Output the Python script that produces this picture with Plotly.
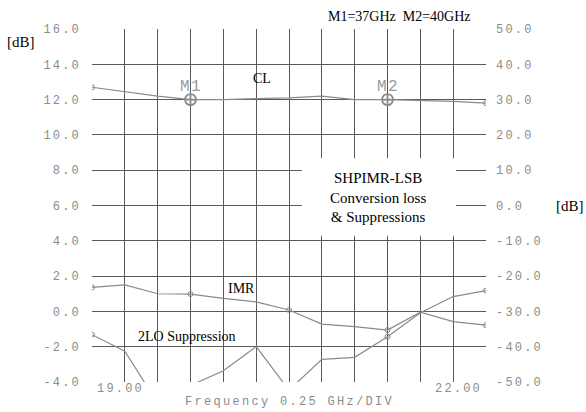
import plotly.graph_objects as go

freq = [19.0, 19.25, 19.5, 19.75, 20.0, 20.25, 20.5, 20.75, 21.0, 21.25, 21.5, 21.75, 22.0]
cl = [12.7, 12.45, 12.2, 12.0, 12.0, 12.05, 12.1, 12.2, 12.0, 12.0, 11.95, 11.9, 11.8]
imr = [-23.2, -22.5, -25.0, -25.1, -26.3, -27.3, -29.6, -33.6, -34.3, -35.3, -30.2, -32.9, -33.9]
lo2 = [-36.6, -41.3, -56.0, -51.0, -46.8, -40.0, -52.3, -43.6, -43.0, -37.2, -30.4, -25.8, -24.1]
markers_f = [19.75, 21.25]
markers_cl = [12.0, 12.0]
marker_names = ["M1", "M2"]

left_ticks = [16, 14, 12, 10, 8, 6, 4, 2, 0, -2, -4]
right_ticks = [50, 40, 30, 20, 10, 0, -10, -20, -30, -40, -50]

GRID = "#5a5a5a"
TRACE = "#8a8a8a"
TICKC = "#8c8c8c"
MONO = "Liberation Mono, DejaVu Sans Mono, monospace"
SERIF = "Liberation Serif, Times New Roman, serif"

def spaced(s, sp=2.2):
    return '<span style="letter-spacing:%.1fpx">%s</span>' % (sp, s)

fig = go.Figure()
fig.add_trace(go.Scatter(x=freq, y=cl, mode="lines", line=dict(color=TRACE, width=1.2),
                         showlegend=False, yaxis="y"))
fig.add_trace(go.Scatter(x=[freq[0], freq[-1]], y=[cl[0], cl[-1]], mode="markers",
                         marker=dict(symbol="circle-open", size=5, color=TRACE), showlegend=False))
fig.add_trace(go.Scatter(x=markers_f, y=markers_cl, mode="markers",
                         marker=dict(symbol="circle-cross-open", size=11, color="#8a8a8a",
                                     line=dict(width=1.8)), showlegend=False))
fig.add_trace(go.Scatter(x=freq, y=imr, mode="lines", line=dict(color=TRACE, width=1.2),
                         showlegend=False, yaxis="y2"))
fig.add_trace(go.Scatter(x=freq, y=lo2, mode="lines", line=dict(color=TRACE, width=1.2),
                         showlegend=False, yaxis="y2"))
fig.add_trace(go.Scatter(x=[freq[0], 19.75, 20.5, 21.25, freq[-1]],
                         y=[imr[0], imr[3], imr[6], imr[9], imr[-1]], mode="markers",
                         marker=dict(symbol="circle-open", size=5, color=TRACE),
                         showlegend=False, yaxis="y2"))
fig.add_trace(go.Scatter(x=[freq[0], 21.25, freq[-1]], y=[lo2[0], lo2[9], lo2[-1]], mode="markers",
                         marker=dict(symbol="circle-open", size=5, color=TRACE),
                         showlegend=False, yaxis="y2"))

fig.update_layout(
    width=586, height=412,
    margin=dict(l=92, r=100, t=29, b=30),
    paper_bgcolor="white", plot_bgcolor="white",
    xaxis=dict(range=[19, 22], dtick=0.25, tick0=19, showgrid=True, gridcolor=GRID, gridwidth=1,
               showticklabels=False, zeroline=False, showline=False, ticks=""),
    yaxis=dict(range=[-4, 16], tickvals=left_ticks,
               ticktext=[spaced("%.1f" % v) for v in left_ticks],
               showgrid=True, gridcolor=GRID, gridwidth=1, zeroline=False, showline=False,
               ticks="", ticklabelstandoff=10,
               tickfont=dict(family=MONO, size=12, color=TICKC)),
    yaxis2=dict(range=[-50, 50], overlaying="y", side="right", tickvals=right_ticks,
                ticktext=[spaced("%.1f" % v) for v in right_ticks],
                showgrid=False, zeroline=False, showline=False, ticks="", ticklabelstandoff=9,
                tickfont=dict(family=MONO, size=12, color=TICKC)),
    shapes=[dict(type="rect", xref="x", yref="y", x0=20.597, x1=21.772, y0=4.29, y1=8.67,
                 fillcolor="white", line=dict(width=0), layer="above")],
)

ann = []
def A(text, x, y, xref="x", yref="y", size=14, family=SERIF, color="black", xanchor="center", yanchor="middle"):
    ann.append(dict(text=text, x=x, y=y, xref=xref, yref=yref, showarrow=False,
                    font=dict(size=size, family=family, color=color), xanchor=xanchor, yanchor=yanchor))

A("[dB]", -0.180, 0.964, xref="paper", yref="paper", size=15)
A("[dB]", 1.213, 0.4986, xref="paper", yref="paper", size=15)
A("M1=37GHz  M2=40GHz", 0.7805, 1.035, xref="paper", yref="paper")
A("CL", 20.294, 13.17)
A("IMR", 20.135, 1.27)
A("2LO Suppression", 19.723, -1.43)
for f, v, n in zip(markers_f, markers_cl, marker_names):
    A(spaced(n, 1.5), f, v + 0.72, size=16, family=MONO, color="#9a9a9a")
A("SHPIMR-LSB<br>Conversion loss<br>& Suppressions", 21.18, 6.44, size=15)
A(spaced("19.00"), 19.02, -0.0198, yref="paper", size=12, family=MONO, color=TICKC, xanchor="left")
A(spaced("22.00"), 21.985, -0.0198, yref="paper", size=12, family=MONO, color=TICKC, xanchor="right")
A(spaced("Frequency 0.25 GHz/DIV", 2.3), 20.5, -0.0567, yref="paper", size=12, family=MONO, color=TICKC)
fig.update_layout(annotations=ann)

fig.write_html("out.html", config={"displayModeBar": False},
               post_script="document.body.style.margin='0';document.body.style.padding='0';")
